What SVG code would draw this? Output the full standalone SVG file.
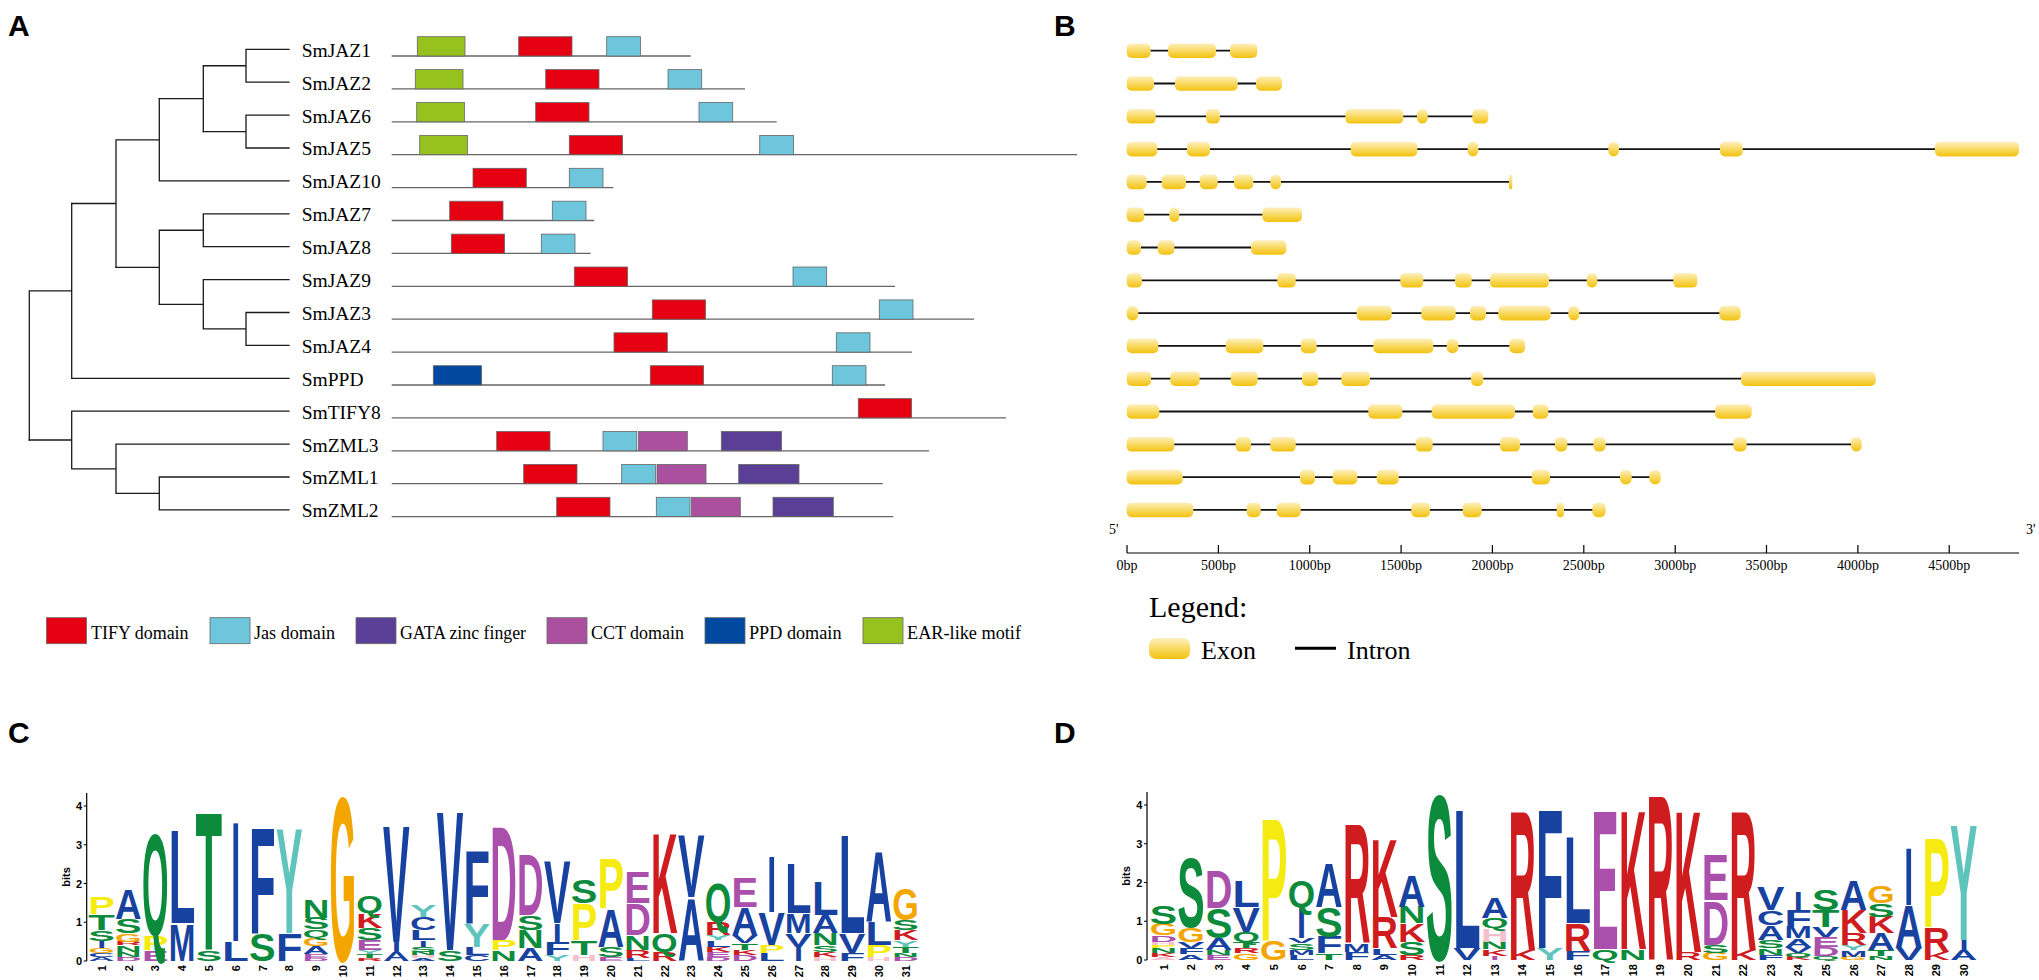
<svg xmlns="http://www.w3.org/2000/svg" width="2039" height="980" viewBox="0 0 2039 980">
<defs>
<linearGradient id="ex" x1="0" y1="0" x2="0" y2="1">
<stop offset="0" stop-color="#fdf0c0"/><stop offset="0.45" stop-color="#f9dc6a"/><stop offset="1" stop-color="#f2c10f"/>
</linearGradient>
<style>
.pl{font-family:"Liberation Sans",Arial,sans-serif;font-weight:bold;font-size:30px;fill:#000}
.sr{font-family:"Liberation Serif","Times New Roman",serif;fill:#000}
.tr{fill:none;stroke:#1a1a1a;stroke-width:1.3;stroke-linecap:square}
.pr{stroke:#666;stroke-width:1.3}
.dm{stroke:#666;stroke-width:0.8}
.ear{fill:#97c11f}.tify{fill:#e50012}.jas{fill:#6dc6dc}.ppd{fill:#0048a0}.cct{fill:#ab4f9f}.gata{fill:#5b3e96}
.exon{fill:url(#ex)}
.intr{stroke:#111;stroke-width:1.8}
.ax{stroke:#000;stroke-width:1.2;fill:none}
.lg{font-family:"Liberation Sans",Arial,sans-serif;font-weight:bold}
.cb{fill:#1742a0}.cg{fill:#0d8b3c}.cm{fill:#ab4fad}.cr{fill:#cf1d1f}.ch{fill:#f5c0cb}.co{fill:#f3a600}.cy{fill:#f6eb10}.ct{fill:#5fc4bb}
.num{font-family:"Liberation Sans",Arial,sans-serif;font-weight:bold;font-size:11px;fill:#000}
</style>
</defs>
<rect width="2039" height="980" fill="#fff"/>

<!-- panel labels -->
<text class="pl" x="8" y="36">A</text>
<text class="pl" x="1054" y="36">B</text>
<text class="pl" x="8" y="743">C</text>
<text class="pl" x="1054" y="743">D</text>

<!-- Tree -->
<g id="tree" class="tr">
<path d="M29.3,290.9V440 M29.3,290.9H71.7 M71.7,203.5V378.3 M71.7,378.3H289"/>
<path d="M71.7,203.5H116 M116,139.8V267.3 M116,139.8H159.3 M159.3,98.65V180.9 M159.3,180.9H289"/>
<path d="M159.3,98.65H203.3 M203.3,65.75V131.55 M203.3,65.75H246 M246,49.3V82.2 M246,49.3H289 M246,82.2H289"/>
<path d="M203.3,131.55H246 M246,115.1V148 M246,115.1H289 M246,148H289"/>
<path d="M116,267.3H159.3 M159.3,230.25V304.3 M159.3,230.25H203.3 M203.3,213.8V246.7 M203.3,213.8H289 M203.3,246.7H289"/>
<path d="M159.3,304.3H203.3 M203.3,279.6V328.95 M203.3,279.6H289 M203.3,328.95H246 M246,312.5V345.4 M246,312.5H289 M246,345.4H289"/>
<path d="M29.3,440H71.7 M71.7,411.2V468.8 M71.7,411.2H289 M71.7,468.8H116 M116,444.1V493.45 M116,444.1H289 M116,493.45H159.3 M159.3,477V509.9 M159.3,477H289 M159.3,509.9H289"/>
</g>

<!-- Gene labels -->
<g id="labels" class="sr" font-size="19.5">
<text x="301.7" y="56.7">SmJAZ1</text>
<text x="301.7" y="89.6">SmJAZ2</text>
<text x="301.7" y="122.5">SmJAZ6</text>
<text x="301.7" y="155.4">SmJAZ5</text>
<text x="301.7" y="188.3">SmJAZ10</text>
<text x="301.7" y="221.2">SmJAZ7</text>
<text x="301.7" y="254.1">SmJAZ8</text>
<text x="301.7" y="287">SmJAZ9</text>
<text x="301.7" y="319.9">SmJAZ3</text>
<text x="301.7" y="352.8">SmJAZ4</text>
<text x="301.7" y="385.7">SmPPD</text>
<text x="301.7" y="418.6">SmTIFY8</text>
<text x="301.7" y="451.5">SmZML3</text>
<text x="301.7" y="484.4">SmZML1</text>
<text x="301.7" y="517.3">SmZML2</text>
</g>

<!-- Protein domains -->
<g id="proteins">
<g id="p-JAZ1"><line class="pr" x1="391.7" y1="56" x2="690.7" y2="56" stroke="#222"/>
<rect class="ear dm" x="417.3" y="36.7" width="47.7" height="19.3"/><rect class="tify dm" x="518.7" y="36.7" width="53.3" height="19.3"/><rect class="jas dm" x="606.7" y="36.7" width="33.7" height="19.3"/></g>
<g id="p-JAZ2"><line class="pr" x1="391.7" y1="88.9" x2="745" y2="88.9"/>
<rect class="ear dm" x="415.3" y="69.6" width="47.7" height="19.3"/><rect class="tify dm" x="545.7" y="69.6" width="53.3" height="19.3"/><rect class="jas dm" x="668" y="69.6" width="33.7" height="19.3"/></g>
<g id="p-JAZ6"><line class="pr" x1="391.7" y1="121.8" x2="776.7" y2="121.8" stroke="#222"/>
<rect class="ear dm" x="416.7" y="102.5" width="47.7" height="19.3"/><rect class="tify dm" x="535.7" y="102.5" width="53.3" height="19.3"/><rect class="jas dm" x="699" y="102.5" width="33.7" height="19.3"/></g>
<g id="p-JAZ5"><line class="pr" x1="391.7" y1="154.7" x2="1077" y2="154.7"/>
<rect class="ear dm" x="419.7" y="135.4" width="47.7" height="19.3"/><rect class="tify dm" x="569.3" y="135.4" width="53.3" height="19.3"/><rect class="jas dm" x="759.7" y="135.4" width="33.7" height="19.3"/></g>
<g id="p-JAZ10"><line class="pr" x1="391.7" y1="187.6" x2="613.3" y2="187.6"/>
<rect class="tify dm" x="473" y="168.3" width="53.3" height="19.3"/><rect class="jas dm" x="569.3" y="168.3" width="33.7" height="19.3"/></g>
<g id="p-JAZ7"><line class="pr" x1="391.7" y1="220.5" x2="594.3" y2="220.5"/>
<rect class="tify dm" x="449.7" y="201.2" width="53.3" height="19.3"/><rect class="jas dm" x="552.3" y="201.2" width="33.7" height="19.3"/></g>
<g id="p-JAZ8"><line class="pr" x1="391.7" y1="253.4" x2="590.7" y2="253.4" stroke="#222"/>
<rect class="tify dm" x="451.3" y="234.1" width="53.3" height="19.3"/><rect class="jas dm" x="541.3" y="234.1" width="33.7" height="19.3"/></g>
<g id="p-JAZ9"><line class="pr" x1="391.7" y1="286.3" x2="895" y2="286.3"/>
<rect class="tify dm" x="574.3" y="267" width="53.3" height="19.3"/><rect class="jas dm" x="793" y="267" width="33.7" height="19.3"/></g>
<g id="p-JAZ3"><line class="pr" x1="391.7" y1="319.2" x2="974" y2="319.2"/>
<rect class="tify dm" x="652.3" y="299.9" width="53.3" height="19.3"/><rect class="jas dm" x="879.3" y="299.9" width="33.7" height="19.3"/></g>
<g id="p-JAZ4"><line class="pr" x1="391.7" y1="352.1" x2="912" y2="352.1"/>
<rect class="tify dm" x="614" y="332.8" width="53.3" height="19.3"/><rect class="jas dm" x="836.3" y="332.8" width="33.7" height="19.3"/></g>
<g id="p-PPD"><line class="pr" x1="391.7" y1="385" x2="885" y2="385"/>
<rect class="ppd dm" x="433.3" y="365.7" width="48.3" height="19.3"/><rect class="tify dm" x="650.3" y="365.7" width="53.3" height="19.3"/><rect class="jas dm" x="832.3" y="365.7" width="33.7" height="19.3"/></g>
<g id="p-TIFY8"><line class="pr" x1="391.7" y1="417.9" x2="1006" y2="417.9" stroke="#222"/>
<rect class="tify dm" x="858.3" y="398.6" width="53.3" height="19.3"/></g>
<g id="p-ZML3"><line class="pr" x1="391.7" y1="450.8" x2="929" y2="450.8"/>
<rect class="tify dm" x="496.7" y="431.5" width="53.3" height="19.3"/><rect class="jas dm" x="603" y="431.5" width="33.7" height="19.3"/><rect class="cct dm" x="638.3" y="431.5" width="49" height="19.3"/><rect class="gata dm" x="721.3" y="431.5" width="60.3" height="19.3"/></g>
<g id="p-ZML1"><line class="pr" x1="391.7" y1="483.7" x2="882.7" y2="483.7"/>
<rect class="tify dm" x="523.7" y="464.4" width="53.3" height="19.3"/><rect class="jas dm" x="621.7" y="464.4" width="33.7" height="19.3"/><rect class="cct dm" x="657" y="464.4" width="49" height="19.3"/><rect class="gata dm" x="738.7" y="464.4" width="60.3" height="19.3"/></g>
<g id="p-ZML2"><line class="pr" x1="391.7" y1="516.6" x2="893.3" y2="516.6"/>
<rect class="tify dm" x="556.7" y="497.3" width="53.3" height="19.3"/><rect class="jas dm" x="656.3" y="497.3" width="33.7" height="19.3"/><rect class="cct dm" x="691.3" y="497.3" width="49" height="19.3"/><rect class="gata dm" x="773" y="497.3" width="60.3" height="19.3"/></g>
</g>

<!-- Domain legend -->
<g id="domain-legend" class="sr" font-size="19.5">
<rect class="tify dm" x="46.5" y="617.7" width="40" height="26"/><text x="91" y="638.5" textLength="97.6" lengthAdjust="spacingAndGlyphs">TIFY domain</text>
<rect class="jas dm" x="210" y="617.7" width="40" height="26"/><text x="254" y="638.5" textLength="81" lengthAdjust="spacingAndGlyphs">Jas domain</text>
<rect class="gata dm" x="356" y="617.7" width="40" height="26"/><text x="400" y="638.5" textLength="126" lengthAdjust="spacingAndGlyphs">GATA zinc finger</text>
<rect class="cct dm" x="547" y="617.7" width="40" height="26"/><text x="591" y="638.5" textLength="93" lengthAdjust="spacingAndGlyphs">CCT domain</text>
<rect class="ppd dm" x="705" y="617.7" width="40" height="26"/><text x="749" y="638.5" textLength="92.5" lengthAdjust="spacingAndGlyphs">PPD domain</text>
<rect class="ear dm" x="863" y="617.7" width="40" height="26"/><text x="907" y="638.5" textLength="114" lengthAdjust="spacingAndGlyphs">EAR-like motif</text>
</g>

<!-- Gene structures -->
<g id="genes">
<g id="g-JAZ1"><line class="intr" x1="1128" y1="50.7" x2="1256" y2="50.7"/>
<rect class="exon" x="1126.7" y="43.4" width="24" height="14.6" rx="5"/><rect class="exon" x="1168" y="43.4" width="48" height="14.6" rx="5"/><rect class="exon" x="1230" y="43.4" width="27.3" height="14.6" rx="5"/></g>
<g id="g-JAZ2"><line class="intr" x1="1128" y1="83.5" x2="1281" y2="83.5"/>
<rect class="exon" x="1126.7" y="76.2" width="27.3" height="14.6" rx="5"/><rect class="exon" x="1175" y="76.2" width="62.7" height="14.6" rx="5"/><rect class="exon" x="1256" y="76.2" width="26" height="14.6" rx="5"/></g>
<g id="g-JAZ6"><line class="intr" x1="1128" y1="116.3" x2="1487" y2="116.3"/>
<rect class="exon" x="1126.7" y="109" width="29" height="14.6" rx="5"/><rect class="exon" x="1206" y="109" width="14" height="14.6" rx="5"/><rect class="exon" x="1345.3" y="109" width="58" height="14.6" rx="5"/><rect class="exon" x="1417" y="109" width="10.7" height="14.6" rx="5.3"/><rect class="exon" x="1472.3" y="109" width="16" height="14.6" rx="5"/></g>
<g id="g-JAZ5"><line class="intr" x1="1128" y1="149.1" x2="2018" y2="149.1"/>
<rect class="exon" x="1126.7" y="141.8" width="30.6" height="14.6" rx="5"/><rect class="exon" x="1187" y="141.8" width="23" height="14.6" rx="5"/><rect class="exon" x="1350.7" y="141.8" width="66.6" height="14.6" rx="5"/><rect class="exon" x="1467.7" y="141.8" width="10.6" height="14.6" rx="5.3"/><rect class="exon" x="1608.3" y="141.8" width="10.7" height="14.6" rx="5.3"/><rect class="exon" x="1720" y="141.8" width="22.7" height="14.6" rx="5"/><rect class="exon" x="1935" y="141.8" width="84" height="14.6" rx="5"/></g>
<g id="g-JAZ10"><line class="intr" x1="1128" y1="181.9" x2="1511" y2="181.9"/>
<rect class="exon" x="1126.7" y="174.6" width="20" height="14.6" rx="5"/><rect class="exon" x="1161.7" y="174.6" width="24.3" height="14.6" rx="5"/><rect class="exon" x="1199.7" y="174.6" width="18" height="14.6" rx="5"/><rect class="exon" x="1234" y="174.6" width="19.3" height="14.6" rx="5"/><rect class="exon" x="1270.3" y="174.6" width="10.7" height="14.6" rx="5.3"/><rect class="exon" x="1509" y="174.6" width="3.3" height="14.6" rx="1.6"/></g>
<g id="g-JAZ7"><line class="intr" x1="1128" y1="214.7" x2="1300" y2="214.7"/>
<rect class="exon" x="1126.7" y="207.4" width="17.6" height="14.6" rx="5"/><rect class="exon" x="1169.3" y="207.4" width="10" height="14.6" rx="5"/><rect class="exon" x="1262.3" y="207.4" width="39.7" height="14.6" rx="5"/></g>
<g id="g-JAZ8"><line class="intr" x1="1128" y1="247.5" x2="1285" y2="247.5"/>
<rect class="exon" x="1126.7" y="240.2" width="14.3" height="14.6" rx="5"/><rect class="exon" x="1157.7" y="240.2" width="16.6" height="14.6" rx="5"/><rect class="exon" x="1251" y="240.2" width="35.3" height="14.6" rx="5"/></g>
<g id="g-JAZ9"><line class="intr" x1="1128" y1="280.3" x2="1696" y2="280.3"/>
<rect class="exon" x="1126.7" y="273" width="15.3" height="14.6" rx="5"/><rect class="exon" x="1277.3" y="273" width="18.4" height="14.6" rx="5"/><rect class="exon" x="1400.3" y="273" width="23" height="14.6" rx="5"/><rect class="exon" x="1455" y="273" width="16.7" height="14.6" rx="5"/><rect class="exon" x="1490" y="273" width="59" height="14.6" rx="5"/><rect class="exon" x="1586.7" y="273" width="10.6" height="14.6" rx="5.3"/><rect class="exon" x="1673.3" y="273" width="24" height="14.6" rx="5"/></g>
<g id="g-JAZ3"><line class="intr" x1="1128" y1="313.1" x2="1740" y2="313.1"/>
<rect class="exon" x="1126.7" y="305.8" width="11.6" height="14.6" rx="5.8"/><rect class="exon" x="1356.7" y="305.8" width="35" height="14.6" rx="5"/><rect class="exon" x="1421.3" y="305.8" width="34.4" height="14.6" rx="5"/><rect class="exon" x="1470" y="305.8" width="16" height="14.6" rx="5"/><rect class="exon" x="1498.3" y="305.8" width="52.4" height="14.6" rx="5"/><rect class="exon" x="1568.3" y="305.8" width="11" height="14.6" rx="5.5"/><rect class="exon" x="1719.3" y="305.8" width="21.4" height="14.6" rx="5"/></g>
<g id="g-JAZ4"><line class="intr" x1="1128" y1="345.9" x2="1524" y2="345.9"/>
<rect class="exon" x="1126.7" y="338.6" width="31.6" height="14.6" rx="5"/><rect class="exon" x="1225.7" y="338.6" width="37.6" height="14.6" rx="5"/><rect class="exon" x="1300.7" y="338.6" width="16" height="14.6" rx="5"/><rect class="exon" x="1373.3" y="338.6" width="60" height="14.6" rx="5"/><rect class="exon" x="1446.7" y="338.6" width="11.6" height="14.6" rx="5.8"/><rect class="exon" x="1509.3" y="338.6" width="15.7" height="14.6" rx="5"/></g>
<g id="g-PPD"><line class="intr" x1="1128" y1="378.7" x2="1875" y2="378.7"/>
<rect class="exon" x="1126.7" y="371.4" width="24.3" height="14.6" rx="5"/><rect class="exon" x="1170.3" y="371.4" width="29.4" height="14.6" rx="5"/><rect class="exon" x="1230.7" y="371.4" width="27" height="14.6" rx="5"/><rect class="exon" x="1302" y="371.4" width="16.3" height="14.6" rx="5"/><rect class="exon" x="1341.3" y="371.4" width="28.7" height="14.6" rx="5"/><rect class="exon" x="1471" y="371.4" width="12.3" height="14.6" rx="5.5"/><rect class="exon" x="1741" y="371.4" width="134.7" height="14.6" rx="5"/></g>
<g id="g-TIFY8"><line class="intr" x1="1128" y1="411.5" x2="1750" y2="411.5"/>
<rect class="exon" x="1126.7" y="404.2" width="32.6" height="14.6" rx="5"/><rect class="exon" x="1368.3" y="404.2" width="34" height="14.6" rx="5"/><rect class="exon" x="1431.7" y="404.2" width="83.3" height="14.6" rx="5"/><rect class="exon" x="1532.7" y="404.2" width="15.6" height="14.6" rx="5"/><rect class="exon" x="1715" y="404.2" width="36.7" height="14.6" rx="5"/></g>
<g id="g-ZML3"><line class="intr" x1="1128" y1="444.3" x2="1860" y2="444.3"/>
<rect class="exon" x="1126.7" y="437" width="47.6" height="14.6" rx="5"/><rect class="exon" x="1235.7" y="437" width="15.3" height="14.6" rx="5"/><rect class="exon" x="1270.3" y="437" width="25.4" height="14.6" rx="5"/><rect class="exon" x="1415.7" y="437" width="17" height="14.6" rx="5"/><rect class="exon" x="1500" y="437" width="20" height="14.6" rx="5"/><rect class="exon" x="1555" y="437" width="12.3" height="14.6" rx="5.5"/><rect class="exon" x="1593.3" y="437" width="12.4" height="14.6" rx="5.5"/><rect class="exon" x="1733.3" y="437" width="13.4" height="14.6" rx="5.5"/><rect class="exon" x="1851" y="437" width="10.7" height="14.6" rx="5.3"/></g>
<g id="g-ZML1"><line class="intr" x1="1128" y1="477.1" x2="1660" y2="477.1"/>
<rect class="exon" x="1126.7" y="469.8" width="56" height="14.6" rx="5"/><rect class="exon" x="1300" y="469.8" width="15" height="14.6" rx="5"/><rect class="exon" x="1332.7" y="469.8" width="24.6" height="14.6" rx="5"/><rect class="exon" x="1376.7" y="469.8" width="22" height="14.6" rx="5"/><rect class="exon" x="1531.7" y="469.8" width="18.3" height="14.6" rx="5"/><rect class="exon" x="1620" y="469.8" width="11.7" height="14.6" rx="5.5"/><rect class="exon" x="1649.3" y="469.8" width="11.4" height="14.6" rx="5.5"/></g>
<g id="g-ZML2"><line class="intr" x1="1128" y1="509.9" x2="1605" y2="509.9"/>
<rect class="exon" x="1126.7" y="502.6" width="66.6" height="14.6" rx="5"/><rect class="exon" x="1246.7" y="502.6" width="14" height="14.6" rx="5"/><rect class="exon" x="1276.7" y="502.6" width="24" height="14.6" rx="5"/><rect class="exon" x="1411.3" y="502.6" width="18.7" height="14.6" rx="5"/><rect class="exon" x="1462.7" y="502.6" width="19" height="14.6" rx="5"/><rect class="exon" x="1556.7" y="502.6" width="7.3" height="14.6" rx="3.6"/><rect class="exon" x="1592.3" y="502.6" width="13.4" height="14.6" rx="5.5"/></g>
</g>

<!-- bp axis -->
<g id="bp-axis">
<path class="ax" d="M1127,553H2019 M1127,545V553 M1218.4,545V553 M1309.7,545V553 M1401.1,545V553 M1492.4,545V553 M1583.8,545V553 M1675.2,545V553 M1766.5,545V553 M1857.9,545V553 M1949.2,545V553"/>
<g class="sr" font-size="14" text-anchor="middle">
<text x="1127" y="570">0bp</text><text x="1218.4" y="570">500bp</text><text x="1309.7" y="570">1000bp</text><text x="1401.1" y="570">1500bp</text><text x="1492.4" y="570">2000bp</text><text x="1583.8" y="570">2500bp</text><text x="1675.2" y="570">3000bp</text><text x="1766.5" y="570">3500bp</text><text x="1857.9" y="570">4000bp</text><text x="1949.2" y="570">4500bp</text>
</g>
<text class="sr" font-size="14" x="1109" y="534">5'</text>
<text class="sr" font-size="14" x="2026" y="534">3'</text>
</g>

<!-- B legend -->
<g id="gene-legend" class="sr">
<text x="1149" y="616.7" font-size="30">Legend:</text>
<rect class="exon" x="1149" y="638" width="41" height="21" rx="7"/>
<text x="1201" y="659" font-size="26">Exon</text>
<line x1="1295" y1="648.3" x2="1336" y2="648.3" stroke="#000" stroke-width="3"/>
<text x="1347" y="659" font-size="26">Intron</text>
</g>

<!-- Logo C -->
<g id="logoC">
<path class="ax" d="M86.7,793V961 M83.7,961H86.7 M83.7,922.25H86.7 M83.7,883.5H86.7 M83.7,844.75H86.7 M83.7,806H86.7"/>
<g class="num" text-anchor="end"><text x="82" y="965">0</text><text x="82" y="926.2">1</text><text x="82" y="887.5">2</text><text x="82" y="848.7">3</text><text x="82" y="810">4</text></g>
<text class="num" transform="translate(70,877) rotate(-90)" text-anchor="middle">bits</text>
<g class="lg">
<text class="cb" x="88.3" y="961" font-size="6" textLength="26.6" lengthAdjust="spacingAndGlyphs">A</text>
<text class="cb" x="88.3" y="956.7" font-size="5.6" textLength="26.6" lengthAdjust="spacingAndGlyphs">C</text>
<text class="co" x="88.3" y="952.7" font-size="6.6" textLength="26.6" lengthAdjust="spacingAndGlyphs">G</text>
<text class="cb" x="97.2" y="948" font-size="10.2" textLength="9" lengthAdjust="spacingAndGlyphs">I</text>
<text class="cg" x="88.3" y="940.7" font-size="14.9" textLength="26.6" lengthAdjust="spacingAndGlyphs">S</text>
<text class="cg" x="88.3" y="930" font-size="22.4" textLength="26.6" lengthAdjust="spacingAndGlyphs">T</text>
<text class="cy" x="88.3" y="914" font-size="23.3" textLength="26.6" lengthAdjust="spacingAndGlyphs">P</text>

<text class="cm" x="115.1" y="961" font-size="6" textLength="26.6" lengthAdjust="spacingAndGlyphs">D</text>
<text class="cg" x="115.1" y="956.7" font-size="7" textLength="26.6" lengthAdjust="spacingAndGlyphs">N</text>
<text class="cg" x="115.1" y="951.7" font-size="8.8" textLength="26.6" lengthAdjust="spacingAndGlyphs">N</text>
<text class="cr" x="115.1" y="945.4" font-size="5.2" textLength="26.6" lengthAdjust="spacingAndGlyphs">R</text>
<text class="co" x="115.1" y="941.7" font-size="11.6" textLength="26.6" lengthAdjust="spacingAndGlyphs">G</text>
<text class="cg" x="115.1" y="933.4" font-size="19.6" textLength="26.6" lengthAdjust="spacingAndGlyphs">S</text>
<text class="cb" x="115.1" y="919.4" font-size="43.3" textLength="26.6" lengthAdjust="spacingAndGlyphs">A</text>

<text class="cm" x="141.9" y="961" font-size="15.4" textLength="26.6" lengthAdjust="spacingAndGlyphs">E</text>
<text class="cy" x="141.9" y="950" font-size="21" textLength="26.6" lengthAdjust="spacingAndGlyphs">P</text>
<text class="cg" x="141.9" y="935" font-size="143.9" textLength="26.6" lengthAdjust="spacingAndGlyphs">Q</text>

<text class="cb" x="168.7" y="961" font-size="52.7" textLength="26.6" lengthAdjust="spacingAndGlyphs">M</text>
<text class="cb" x="168.7" y="923.3" font-size="133.7" textLength="26.6" lengthAdjust="spacingAndGlyphs">L</text>

<text class="cg" x="195.5" y="961" font-size="15.4" textLength="26.6" lengthAdjust="spacingAndGlyphs">S</text>
<text class="cg" x="195.5" y="950" font-size="196.6" textLength="26.6" lengthAdjust="spacingAndGlyphs">T</text>

<text class="cb" x="222.3" y="961" font-size="27.9" textLength="26.6" lengthAdjust="spacingAndGlyphs">L</text>
<text class="cb" x="231.2" y="941" font-size="171.4" textLength="9" lengthAdjust="spacingAndGlyphs">I</text>

<text class="cg" x="249.1" y="961" font-size="38.7" textLength="26.6" lengthAdjust="spacingAndGlyphs">S</text>
<text class="cb" x="249.1" y="933.3" font-size="152.7" textLength="26.6" lengthAdjust="spacingAndGlyphs">F</text>

<text class="cb" x="275.9" y="961" font-size="38.7" textLength="26.6" lengthAdjust="spacingAndGlyphs">F</text>
<text class="ct" x="275.9" y="933.3" font-size="150.5" textLength="26.6" lengthAdjust="spacingAndGlyphs">Y</text>

<text class="cm" x="302.7" y="961" font-size="4.2" textLength="26.6" lengthAdjust="spacingAndGlyphs">D</text>
<text class="cm" x="302.7" y="958" font-size="5.6" textLength="26.6" lengthAdjust="spacingAndGlyphs">E</text>
<text class="cb" x="302.7" y="954" font-size="11.2" textLength="26.6" lengthAdjust="spacingAndGlyphs">A</text>
<text class="co" x="302.7" y="946" font-size="11.6" textLength="26.6" lengthAdjust="spacingAndGlyphs">G</text>
<text class="cg" x="302.7" y="937.7" font-size="11.6" textLength="26.6" lengthAdjust="spacingAndGlyphs">Q</text>
<text class="cg" x="302.7" y="929.4" font-size="16.3" textLength="26.6" lengthAdjust="spacingAndGlyphs">S</text>
<text class="cg" x="302.7" y="917.7" font-size="25.6" textLength="26.6" lengthAdjust="spacingAndGlyphs">N</text>

<text class="co" x="329.5" y="961" font-size="234.3" textLength="26.6" lengthAdjust="spacingAndGlyphs">G</text>

<text class="cr" x="356.3" y="961" font-size="3.8" textLength="26.6" lengthAdjust="spacingAndGlyphs">R</text>
<text class="cg" x="356.3" y="958.3" font-size="5.6" textLength="26.6" lengthAdjust="spacingAndGlyphs">T</text>
<text class="ct" x="356.3" y="954.3" font-size="6" textLength="26.6" lengthAdjust="spacingAndGlyphs">Y</text>
<text class="cm" x="356.3" y="950" font-size="14" textLength="26.6" lengthAdjust="spacingAndGlyphs">E</text>
<text class="cg" x="356.3" y="940" font-size="16.3" textLength="26.6" lengthAdjust="spacingAndGlyphs">S</text>
<text class="cr" x="356.3" y="928.3" font-size="21" textLength="26.6" lengthAdjust="spacingAndGlyphs">K</text>
<text class="cg" x="356.3" y="913.3" font-size="23.3" textLength="26.6" lengthAdjust="spacingAndGlyphs">Q</text>

<text class="cb" x="383.1" y="961" font-size="13" textLength="26.6" lengthAdjust="spacingAndGlyphs">A</text>
<text class="cb" x="392" y="951.7" font-size="14" textLength="9" lengthAdjust="spacingAndGlyphs">I</text>
<text class="cb" x="383.1" y="941.7" font-size="166.2" textLength="26.6" lengthAdjust="spacingAndGlyphs">V</text>

<text class="cb" x="409.9" y="961" font-size="3.8" textLength="26.6" lengthAdjust="spacingAndGlyphs">A</text>
<text class="ch" x="409.9" y="958.3" font-size="4.2" textLength="26.6" lengthAdjust="spacingAndGlyphs">H</text>
<text class="cg" x="409.9" y="955.3" font-size="4.6" textLength="26.6" lengthAdjust="spacingAndGlyphs">N</text>
<text class="cg" x="409.9" y="952" font-size="7" textLength="26.6" lengthAdjust="spacingAndGlyphs">S</text>
<text class="cb" x="418.8" y="947" font-size="9.4" textLength="9" lengthAdjust="spacingAndGlyphs">I</text>
<text class="cb" x="409.9" y="940.3" font-size="14" textLength="26.6" lengthAdjust="spacingAndGlyphs">L</text>
<text class="cb" x="409.9" y="930.3" font-size="18.6" textLength="26.6" lengthAdjust="spacingAndGlyphs">C</text>
<text class="ct" x="409.9" y="917" font-size="16.3" textLength="26.6" lengthAdjust="spacingAndGlyphs">Y</text>

<text class="cg" x="436.7" y="961" font-size="15.4" textLength="26.6" lengthAdjust="spacingAndGlyphs">S</text>
<text class="cb" x="436.7" y="950" font-size="198" textLength="26.6" lengthAdjust="spacingAndGlyphs">V</text>

<text class="cb" x="463.5" y="961" font-size="8.4" textLength="26.6" lengthAdjust="spacingAndGlyphs">C</text>
<text class="cb" x="463.5" y="955" font-size="11.6" textLength="26.6" lengthAdjust="spacingAndGlyphs">L</text>
<text class="ct" x="463.5" y="946.7" font-size="32.6" textLength="26.6" lengthAdjust="spacingAndGlyphs">Y</text>
<text class="cb" x="463.5" y="923.4" font-size="103.4" textLength="26.6" lengthAdjust="spacingAndGlyphs">F</text>

<text class="cg" x="490.3" y="961" font-size="15.4" textLength="26.6" lengthAdjust="spacingAndGlyphs">N</text>
<text class="cy" x="490.3" y="950" font-size="14" textLength="26.6" lengthAdjust="spacingAndGlyphs">P</text>
<text class="cm" x="490.3" y="940" font-size="163" textLength="26.6" lengthAdjust="spacingAndGlyphs">D</text>

<text class="cb" x="517.1" y="961" font-size="17.7" textLength="26.6" lengthAdjust="spacingAndGlyphs">A</text>
<text class="cg" x="517.1" y="948.3" font-size="25.6" textLength="26.6" lengthAdjust="spacingAndGlyphs">N</text>
<text class="cg" x="517.1" y="930" font-size="21" textLength="26.6" lengthAdjust="spacingAndGlyphs">S</text>
<text class="cm" x="517.1" y="915" font-size="87" textLength="26.6" lengthAdjust="spacingAndGlyphs">D</text>

<text class="ct" x="543.9" y="961" font-size="8.4" textLength="26.6" lengthAdjust="spacingAndGlyphs">Y</text>
<text class="cb" x="543.9" y="955" font-size="18.6" textLength="26.6" lengthAdjust="spacingAndGlyphs">F</text>
<text class="cb" x="552.8" y="941.7" font-size="25.6" textLength="9" lengthAdjust="spacingAndGlyphs">I</text>
<text class="cb" x="543.9" y="923.4" font-size="89.4" textLength="26.6" lengthAdjust="spacingAndGlyphs">V</text>

<text class="ch" x="570.7" y="961" font-size="8.4" textLength="26.6" lengthAdjust="spacingAndGlyphs">H</text>
<text class="cg" x="570.7" y="955" font-size="21" textLength="26.6" lengthAdjust="spacingAndGlyphs">T</text>
<text class="cy" x="570.7" y="940" font-size="51.3" textLength="26.6" lengthAdjust="spacingAndGlyphs">P</text>
<text class="cg" x="570.7" y="903.3" font-size="32.6" textLength="26.6" lengthAdjust="spacingAndGlyphs">S</text>

<text class="cm" x="597.5" y="961" font-size="6" textLength="26.6" lengthAdjust="spacingAndGlyphs">E</text>
<text class="cg" x="597.5" y="956.7" font-size="14" textLength="26.6" lengthAdjust="spacingAndGlyphs">S</text>
<text class="cb" x="597.5" y="946.7" font-size="53.5" textLength="26.6" lengthAdjust="spacingAndGlyphs">A</text>
<text class="cy" x="597.5" y="908.4" font-size="69.9" textLength="26.6" lengthAdjust="spacingAndGlyphs">P</text>

<text class="cb" x="624.3" y="961" font-size="3.8" textLength="26.6" lengthAdjust="spacingAndGlyphs">L</text>
<text class="cr" x="624.3" y="958.3" font-size="11.6" textLength="26.6" lengthAdjust="spacingAndGlyphs">R</text>
<text class="cg" x="624.3" y="950" font-size="21" textLength="26.6" lengthAdjust="spacingAndGlyphs">N</text>
<text class="cm" x="624.3" y="935" font-size="44.3" textLength="26.6" lengthAdjust="spacingAndGlyphs">D</text>
<text class="cm" x="624.3" y="903.3" font-size="44.3" textLength="26.6" lengthAdjust="spacingAndGlyphs">E</text>

<text class="cr" x="651.1" y="961" font-size="13" textLength="26.6" lengthAdjust="spacingAndGlyphs">R</text>
<text class="cg" x="651.1" y="951.7" font-size="25.6" textLength="26.6" lengthAdjust="spacingAndGlyphs">Q</text>
<text class="cr" x="651.1" y="933.4" font-size="143.5" textLength="26.6" lengthAdjust="spacingAndGlyphs">K</text>

<text class="cb" x="677.9" y="961" font-size="89.8" textLength="26.6" lengthAdjust="spacingAndGlyphs">A</text>
<text class="cb" x="677.9" y="896.7" font-size="89.4" textLength="26.6" lengthAdjust="spacingAndGlyphs">V</text>

<text class="cm" x="704.7" y="961" font-size="6" textLength="26.6" lengthAdjust="spacingAndGlyphs">D</text>
<text class="cm" x="704.7" y="956.7" font-size="7" textLength="26.6" lengthAdjust="spacingAndGlyphs">E</text>
<text class="cr" x="704.7" y="951.7" font-size="7" textLength="26.6" lengthAdjust="spacingAndGlyphs">K</text>
<text class="cb" x="704.7" y="946.7" font-size="9.4" textLength="26.6" lengthAdjust="spacingAndGlyphs">L</text>
<text class="ct" x="704.7" y="940" font-size="7" textLength="26.6" lengthAdjust="spacingAndGlyphs">Y</text>
<text class="cr" x="704.7" y="935" font-size="18.6" textLength="26.6" lengthAdjust="spacingAndGlyphs">R</text>
<text class="cg" x="704.7" y="921.7" font-size="55.9" textLength="26.6" lengthAdjust="spacingAndGlyphs">Q</text>

<text class="cm" x="731.5" y="961" font-size="8.4" textLength="26.6" lengthAdjust="spacingAndGlyphs">D</text>
<text class="cr" x="731.5" y="955" font-size="7" textLength="26.6" lengthAdjust="spacingAndGlyphs">K</text>
<text class="cg" x="731.5" y="950" font-size="9.4" textLength="26.6" lengthAdjust="spacingAndGlyphs">T</text>
<text class="cb" x="731.5" y="943.3" font-size="11.6" textLength="26.6" lengthAdjust="spacingAndGlyphs">V</text>
<text class="cb" x="731.5" y="935" font-size="39.5" textLength="26.6" lengthAdjust="spacingAndGlyphs">A</text>
<text class="cm" x="731.5" y="906.7" font-size="41.9" textLength="26.6" lengthAdjust="spacingAndGlyphs">E</text>

<text class="cb" x="758.3" y="961" font-size="10.8" textLength="26.6" lengthAdjust="spacingAndGlyphs">L</text>
<text class="cy" x="758.3" y="953.3" font-size="11.6" textLength="26.6" lengthAdjust="spacingAndGlyphs">P</text>
<text class="cb" x="758.3" y="945" font-size="46.5" textLength="26.6" lengthAdjust="spacingAndGlyphs">V</text>
<text class="cb" x="767.2" y="911.7" font-size="79.2" textLength="9" lengthAdjust="spacingAndGlyphs">I</text>

<text class="cb" x="794" y="961" font-size="20" textLength="9" lengthAdjust="spacingAndGlyphs">I</text>
<text class="cb" x="785.1" y="946.7" font-size="18.6" textLength="26.6" lengthAdjust="spacingAndGlyphs">V</text>
<text class="cb" x="785.1" y="933.4" font-size="27.9" textLength="26.6" lengthAdjust="spacingAndGlyphs">M</text>
<text class="cb" x="785.1" y="913.4" font-size="69.9" textLength="26.6" lengthAdjust="spacingAndGlyphs">L</text>

<text class="ch" x="811.9" y="961" font-size="6" textLength="26.6" lengthAdjust="spacingAndGlyphs">H</text>
<text class="cr" x="811.9" y="956.7" font-size="7" textLength="26.6" lengthAdjust="spacingAndGlyphs">K</text>
<text class="cg" x="811.9" y="951.7" font-size="9.4" textLength="26.6" lengthAdjust="spacingAndGlyphs">S</text>
<text class="cg" x="811.9" y="945" font-size="16.3" textLength="26.6" lengthAdjust="spacingAndGlyphs">N</text>
<text class="cb" x="811.9" y="933.3" font-size="25.6" textLength="26.6" lengthAdjust="spacingAndGlyphs">A</text>
<text class="cb" x="811.9" y="915" font-size="48.9" textLength="26.6" lengthAdjust="spacingAndGlyphs">L</text>

<text class="cb" x="838.7" y="961" font-size="11.6" textLength="26.6" lengthAdjust="spacingAndGlyphs">F</text>
<text class="cb" x="838.7" y="952.7" font-size="27" textLength="26.6" lengthAdjust="spacingAndGlyphs">V</text>
<text class="cb" x="838.7" y="933.4" font-size="140.7" textLength="26.6" lengthAdjust="spacingAndGlyphs">L</text>

<text class="ch" x="865.5" y="961" font-size="6" textLength="26.6" lengthAdjust="spacingAndGlyphs">H</text>
<text class="cy" x="865.5" y="956.7" font-size="16.3" textLength="26.6" lengthAdjust="spacingAndGlyphs">P</text>
<text class="cb" x="865.5" y="945" font-size="32.6" textLength="26.6" lengthAdjust="spacingAndGlyphs">L</text>
<text class="cb" x="865.5" y="921.7" font-size="100.2" textLength="26.6" lengthAdjust="spacingAndGlyphs">A</text>

<text class="cm" x="892.3" y="961" font-size="6" textLength="26.6" lengthAdjust="spacingAndGlyphs">D</text>
<text class="cg" x="892.3" y="956.7" font-size="5.6" textLength="26.6" lengthAdjust="spacingAndGlyphs">N</text>
<text class="cg" x="892.3" y="952.7" font-size="8.4" textLength="26.6" lengthAdjust="spacingAndGlyphs">T</text>
<text class="ct" x="892.3" y="946.7" font-size="9.4" textLength="26.6" lengthAdjust="spacingAndGlyphs">Y</text>
<text class="cr" x="892.3" y="940" font-size="14" textLength="26.6" lengthAdjust="spacingAndGlyphs">K</text>
<text class="cg" x="892.3" y="930" font-size="14" textLength="26.6" lengthAdjust="spacingAndGlyphs">S</text>
<text class="co" x="892.3" y="920" font-size="44.3" textLength="26.6" lengthAdjust="spacingAndGlyphs">G</text>
</g>
<g class="num" text-anchor="end">
<text transform="translate(105.7,965) rotate(-90)">1</text><text transform="translate(132.5,965) rotate(-90)">2</text><text transform="translate(159.3,965) rotate(-90)">3</text><text transform="translate(186.1,965) rotate(-90)">4</text><text transform="translate(212.9,965) rotate(-90)">5</text><text transform="translate(239.7,965) rotate(-90)">6</text><text transform="translate(266.5,965) rotate(-90)">7</text><text transform="translate(293.3,965) rotate(-90)">8</text><text transform="translate(320.1,965) rotate(-90)">9</text><text transform="translate(346.9,965) rotate(-90)">10</text><text transform="translate(373.7,965) rotate(-90)">11</text><text transform="translate(400.5,965) rotate(-90)">12</text><text transform="translate(427.3,965) rotate(-90)">13</text><text transform="translate(454.1,965) rotate(-90)">14</text><text transform="translate(480.9,965) rotate(-90)">15</text><text transform="translate(507.7,965) rotate(-90)">16</text><text transform="translate(534.5,965) rotate(-90)">17</text><text transform="translate(561.3,965) rotate(-90)">18</text><text transform="translate(588.1,965) rotate(-90)">19</text><text transform="translate(614.9,965) rotate(-90)">20</text><text transform="translate(641.7,965) rotate(-90)">21</text><text transform="translate(668.5,965) rotate(-90)">22</text><text transform="translate(695.3,965) rotate(-90)">23</text><text transform="translate(722.1,965) rotate(-90)">24</text><text transform="translate(748.9,965) rotate(-90)">25</text><text transform="translate(775.7,965) rotate(-90)">26</text><text transform="translate(802.5,965) rotate(-90)">27</text><text transform="translate(829.3,965) rotate(-90)">28</text><text transform="translate(856.1,965) rotate(-90)">29</text><text transform="translate(882.9,965) rotate(-90)">30</text><text transform="translate(909.7,965) rotate(-90)">31</text>
</g>
</g>

<!-- Logo D -->
<g id="logoD">
<path class="ax" d="M1147,792V960 M1144,960H1147 M1144,921.25H1147 M1144,882.5H1147 M1144,843.75H1147 M1144,805H1147"/>
<g class="num" text-anchor="end"><text x="1142.3" y="964">0</text><text x="1142.3" y="925.2">1</text><text x="1142.3" y="886.5">2</text><text x="1142.3" y="847.7">3</text><text x="1142.3" y="809">4</text></g>
<text class="num" transform="translate(1130,876) rotate(-90)" text-anchor="middle">bits</text>
<g class="lg">
<text class="ch" x="1149.7" y="960" font-size="4.2" textLength="27.4" lengthAdjust="spacingAndGlyphs">A</text>
<text class="cr" x="1149.7" y="957" font-size="5.6" textLength="27.4" lengthAdjust="spacingAndGlyphs">K</text>
<text class="cg" x="1149.7" y="953" font-size="7" textLength="27.4" lengthAdjust="spacingAndGlyphs">N</text>
<text class="cy" x="1149.7" y="948" font-size="4.2" textLength="27.4" lengthAdjust="spacingAndGlyphs">P</text>
<text class="ch" x="1149.7" y="945" font-size="4.2" textLength="27.4" lengthAdjust="spacingAndGlyphs">H</text>
<text class="cm" x="1149.7" y="942" font-size="9.4" textLength="27.4" lengthAdjust="spacingAndGlyphs">D</text>
<text class="co" x="1149.7" y="935.3" font-size="16.3" textLength="27.4" lengthAdjust="spacingAndGlyphs">G</text>
<text class="cg" x="1149.7" y="923.6" font-size="25.1" textLength="27.4" lengthAdjust="spacingAndGlyphs">S</text>

<text class="cb" x="1177.3" y="960" font-size="8" textLength="27.4" lengthAdjust="spacingAndGlyphs">A</text>
<text class="cb" x="1177.3" y="954.3" font-size="8.4" textLength="27.4" lengthAdjust="spacingAndGlyphs">F</text>
<text class="cb" x="1177.3" y="948.3" font-size="9.4" textLength="27.4" lengthAdjust="spacingAndGlyphs">V</text>
<text class="co" x="1177.3" y="941.6" font-size="21" textLength="27.4" lengthAdjust="spacingAndGlyphs">G</text>
<text class="cg" x="1177.3" y="926.6" font-size="97.8" textLength="27.4" lengthAdjust="spacingAndGlyphs">S</text>

<text class="cm" x="1204.9" y="960" font-size="7" textLength="27.4" lengthAdjust="spacingAndGlyphs">E</text>
<text class="cg" x="1204.9" y="955" font-size="7" textLength="27.4" lengthAdjust="spacingAndGlyphs">N</text>
<text class="cb" x="1204.9" y="950" font-size="16.3" textLength="27.4" lengthAdjust="spacingAndGlyphs">A</text>
<text class="cg" x="1204.9" y="938.3" font-size="41.9" textLength="27.4" lengthAdjust="spacingAndGlyphs">S</text>
<text class="cm" x="1204.9" y="908.3" font-size="53.5" textLength="27.4" lengthAdjust="spacingAndGlyphs">D</text>

<text class="co" x="1232.5" y="960" font-size="9.4" textLength="27.4" lengthAdjust="spacingAndGlyphs">G</text>
<text class="cr" x="1232.5" y="953.3" font-size="7" textLength="27.4" lengthAdjust="spacingAndGlyphs">R</text>
<text class="cg" x="1232.5" y="948.3" font-size="9.4" textLength="27.4" lengthAdjust="spacingAndGlyphs">T</text>
<text class="cg" x="1232.5" y="941.6" font-size="14" textLength="27.4" lengthAdjust="spacingAndGlyphs">Q</text>
<text class="cb" x="1232.5" y="931.6" font-size="34.9" textLength="27.4" lengthAdjust="spacingAndGlyphs">V</text>
<text class="cb" x="1232.5" y="906.6" font-size="37.3" textLength="27.4" lengthAdjust="spacingAndGlyphs">L</text>

<text class="co" x="1260.1" y="960" font-size="27.9" textLength="27.4" lengthAdjust="spacingAndGlyphs">G</text>
<text class="cy" x="1260.1" y="940" font-size="174.6" textLength="27.4" lengthAdjust="spacingAndGlyphs">P</text>

<text class="cb" x="1287.7" y="960" font-size="7" textLength="27.4" lengthAdjust="spacingAndGlyphs">L</text>
<text class="cb" x="1287.7" y="955" font-size="7" textLength="27.4" lengthAdjust="spacingAndGlyphs">M</text>
<text class="cg" x="1287.7" y="950" font-size="9.4" textLength="27.4" lengthAdjust="spacingAndGlyphs">S</text>
<text class="cb" x="1287.7" y="943.3" font-size="7" textLength="27.4" lengthAdjust="spacingAndGlyphs">V</text>
<text class="cb" x="1297" y="938.3" font-size="44.3" textLength="9" lengthAdjust="spacingAndGlyphs">I</text>
<text class="cg" x="1287.7" y="906.6" font-size="37.3" textLength="27.4" lengthAdjust="spacingAndGlyphs">Q</text>

<text class="cg" x="1315.3" y="960" font-size="9.4" textLength="27.4" lengthAdjust="spacingAndGlyphs">T</text>
<text class="cb" x="1315.3" y="953.3" font-size="23.3" textLength="27.4" lengthAdjust="spacingAndGlyphs">F</text>
<text class="cg" x="1315.3" y="936.6" font-size="41.9" textLength="27.4" lengthAdjust="spacingAndGlyphs">S</text>
<text class="cb" x="1315.3" y="906.6" font-size="62.9" textLength="27.4" lengthAdjust="spacingAndGlyphs">A</text>

<text class="cb" x="1342.9" y="960" font-size="11.6" textLength="27.4" lengthAdjust="spacingAndGlyphs">F</text>
<text class="cb" x="1342.9" y="951.7" font-size="11.6" textLength="27.4" lengthAdjust="spacingAndGlyphs">M</text>
<text class="cr" x="1342.9" y="943.4" font-size="170" textLength="27.4" lengthAdjust="spacingAndGlyphs">R</text>

<text class="cb" x="1370.5" y="960" font-size="7" textLength="27.4" lengthAdjust="spacingAndGlyphs">A</text>
<text class="cb" x="1370.5" y="955" font-size="9.4" textLength="27.4" lengthAdjust="spacingAndGlyphs">L</text>
<text class="cr" x="1370.5" y="948.3" font-size="44.3" textLength="27.4" lengthAdjust="spacingAndGlyphs">R</text>
<text class="cr" x="1370.5" y="916.6" font-size="111.8" textLength="27.4" lengthAdjust="spacingAndGlyphs">K</text>

<text class="cr" x="1398.1" y="960" font-size="7" textLength="27.4" lengthAdjust="spacingAndGlyphs">R</text>
<text class="cg" x="1398.1" y="955" font-size="18.6" textLength="27.4" lengthAdjust="spacingAndGlyphs">S</text>
<text class="cr" x="1398.1" y="941.7" font-size="25.6" textLength="27.4" lengthAdjust="spacingAndGlyphs">K</text>
<text class="cg" x="1398.1" y="923.4" font-size="23.3" textLength="27.4" lengthAdjust="spacingAndGlyphs">N</text>
<text class="cb" x="1398.1" y="906.7" font-size="44.3" textLength="27.4" lengthAdjust="spacingAndGlyphs">A</text>

<text class="cg" x="1425.7" y="960" font-size="235.1" textLength="27.4" lengthAdjust="spacingAndGlyphs">S</text>

<text class="cb" x="1453.3" y="960" font-size="16.3" textLength="27.4" lengthAdjust="spacingAndGlyphs">V</text>
<text class="cb" x="1453.3" y="948.3" font-size="198" textLength="27.4" lengthAdjust="spacingAndGlyphs">L</text>

<text class="cm" x="1490.2" y="960" font-size="5.6" textLength="9" lengthAdjust="spacingAndGlyphs">I</text>
<text class="cr" x="1480.9" y="956" font-size="9.4" textLength="27.4" lengthAdjust="spacingAndGlyphs">K</text>
<text class="cg" x="1480.9" y="949.3" font-size="10.8" textLength="27.4" lengthAdjust="spacingAndGlyphs">N</text>
<text class="ch" x="1480.9" y="941.6" font-size="18.6" textLength="27.4" lengthAdjust="spacingAndGlyphs">H</text>
<text class="cg" x="1480.9" y="928.3" font-size="14" textLength="27.4" lengthAdjust="spacingAndGlyphs">Q</text>
<text class="cb" x="1480.9" y="918.3" font-size="30.3" textLength="27.4" lengthAdjust="spacingAndGlyphs">A</text>

<text class="cr" x="1508.5" y="960" font-size="14" textLength="27.4" lengthAdjust="spacingAndGlyphs">K</text>
<text class="cr" x="1508.5" y="950" font-size="200.2" textLength="27.4" lengthAdjust="spacingAndGlyphs">R</text>

<text class="ct" x="1536.1" y="960" font-size="16.3" textLength="27.4" lengthAdjust="spacingAndGlyphs">Y</text>
<text class="cb" x="1536.1" y="948.3" font-size="198" textLength="27.4" lengthAdjust="spacingAndGlyphs">F</text>

<text class="cb" x="1563.7" y="960" font-size="13" textLength="27.4" lengthAdjust="spacingAndGlyphs">F</text>
<text class="cr" x="1563.7" y="950.7" font-size="38.1" textLength="27.4" lengthAdjust="spacingAndGlyphs">R</text>
<text class="cb" x="1563.7" y="923.4" font-size="123.4" textLength="27.4" lengthAdjust="spacingAndGlyphs">L</text>

<text class="cg" x="1591.3" y="960" font-size="14.9" textLength="27.4" lengthAdjust="spacingAndGlyphs">Q</text>
<text class="cm" x="1591.3" y="949.3" font-size="199.4" textLength="27.4" lengthAdjust="spacingAndGlyphs">E</text>

<text class="cg" x="1618.9" y="960" font-size="14.9" textLength="27.4" lengthAdjust="spacingAndGlyphs">N</text>
<text class="cr" x="1618.9" y="949.3" font-size="199.4" textLength="27.4" lengthAdjust="spacingAndGlyphs">K</text>

<text class="cr" x="1646.5" y="960" font-size="235.1" textLength="27.4" lengthAdjust="spacingAndGlyphs">R</text>

<text class="cr" x="1674.1" y="960" font-size="11.6" textLength="27.4" lengthAdjust="spacingAndGlyphs">R</text>
<text class="cr" x="1674.1" y="951.7" font-size="202.6" textLength="27.4" lengthAdjust="spacingAndGlyphs">K</text>

<text class="co" x="1701.7" y="960" font-size="10.2" textLength="27.4" lengthAdjust="spacingAndGlyphs">G</text>
<text class="cg" x="1701.7" y="952.7" font-size="10.8" textLength="27.4" lengthAdjust="spacingAndGlyphs">S</text>
<text class="cm" x="1701.7" y="945" font-size="62.9" textLength="27.4" lengthAdjust="spacingAndGlyphs">D</text>
<text class="cm" x="1701.7" y="900" font-size="65.2" textLength="27.4" lengthAdjust="spacingAndGlyphs">E</text>

<text class="cr" x="1729.3" y="960" font-size="14" textLength="27.4" lengthAdjust="spacingAndGlyphs">K</text>
<text class="cr" x="1729.3" y="950" font-size="200.2" textLength="27.4" lengthAdjust="spacingAndGlyphs">R</text>

<text class="cb" x="1756.9" y="960" font-size="7" textLength="27.4" lengthAdjust="spacingAndGlyphs">F</text>
<text class="cg" x="1756.9" y="955" font-size="9.4" textLength="27.4" lengthAdjust="spacingAndGlyphs">N</text>
<text class="cg" x="1756.9" y="948.3" font-size="11.6" textLength="27.4" lengthAdjust="spacingAndGlyphs">S</text>
<text class="cb" x="1756.9" y="940" font-size="21" textLength="27.4" lengthAdjust="spacingAndGlyphs">A</text>
<text class="cb" x="1756.9" y="925" font-size="21" textLength="27.4" lengthAdjust="spacingAndGlyphs">C</text>
<text class="cb" x="1756.9" y="910" font-size="32.6" textLength="27.4" lengthAdjust="spacingAndGlyphs">V</text>

<text class="cr" x="1784.5" y="960" font-size="4.6" textLength="27.4" lengthAdjust="spacingAndGlyphs">K</text>
<text class="cg" x="1784.5" y="956.7" font-size="5.6" textLength="27.4" lengthAdjust="spacingAndGlyphs">Q</text>
<text class="cb" x="1784.5" y="952.7" font-size="8.4" textLength="27.4" lengthAdjust="spacingAndGlyphs">V</text>
<text class="cb" x="1784.5" y="946.7" font-size="11.6" textLength="27.4" lengthAdjust="spacingAndGlyphs">A</text>
<text class="cb" x="1784.5" y="938.4" font-size="16.3" textLength="27.4" lengthAdjust="spacingAndGlyphs">M</text>
<text class="cb" x="1784.5" y="926.7" font-size="23.3" textLength="27.4" lengthAdjust="spacingAndGlyphs">F</text>
<text class="cb" x="1793.8" y="910" font-size="25.6" textLength="9" lengthAdjust="spacingAndGlyphs">I</text>

<text class="cg" x="1812.1" y="960" font-size="5.6" textLength="27.4" lengthAdjust="spacingAndGlyphs">Q</text>
<text class="cm" x="1812.1" y="956" font-size="13" textLength="27.4" lengthAdjust="spacingAndGlyphs">D</text>
<text class="cm" x="1812.1" y="946.7" font-size="14" textLength="27.4" lengthAdjust="spacingAndGlyphs">E</text>
<text class="cb" x="1812.1" y="936.7" font-size="14" textLength="27.4" lengthAdjust="spacingAndGlyphs">V</text>
<text class="cg" x="1812.1" y="926.7" font-size="23.3" textLength="27.4" lengthAdjust="spacingAndGlyphs">T</text>
<text class="cg" x="1812.1" y="910" font-size="30.3" textLength="27.4" lengthAdjust="spacingAndGlyphs">S</text>

<text class="co" x="1839.7" y="960" font-size="4.6" textLength="27.4" lengthAdjust="spacingAndGlyphs">G</text>
<text class="cb" x="1839.7" y="956.7" font-size="9.4" textLength="27.4" lengthAdjust="spacingAndGlyphs">M</text>
<text class="ct" x="1839.7" y="950" font-size="7" textLength="27.4" lengthAdjust="spacingAndGlyphs">Y</text>
<text class="cr" x="1839.7" y="945" font-size="16.3" textLength="27.4" lengthAdjust="spacingAndGlyphs">R</text>
<text class="cr" x="1839.7" y="933.3" font-size="32.6" textLength="27.4" lengthAdjust="spacingAndGlyphs">K</text>
<text class="cb" x="1839.7" y="910" font-size="41.9" textLength="27.4" lengthAdjust="spacingAndGlyphs">A</text>

<text class="cg" x="1867.3" y="960" font-size="5.6" textLength="27.4" lengthAdjust="spacingAndGlyphs">N</text>
<text class="cg" x="1867.3" y="956" font-size="8.4" textLength="27.4" lengthAdjust="spacingAndGlyphs">T</text>
<text class="cb" x="1867.3" y="950" font-size="23.3" textLength="27.4" lengthAdjust="spacingAndGlyphs">A</text>
<text class="cr" x="1867.3" y="933.3" font-size="23.3" textLength="27.4" lengthAdjust="spacingAndGlyphs">K</text>
<text class="cg" x="1867.3" y="916.6" font-size="18.6" textLength="27.4" lengthAdjust="spacingAndGlyphs">S</text>
<text class="co" x="1867.3" y="903.3" font-size="23.3" textLength="27.4" lengthAdjust="spacingAndGlyphs">G</text>

<text class="cb" x="1894.9" y="960" font-size="18.6" textLength="27.4" lengthAdjust="spacingAndGlyphs">V</text>
<text class="cb" x="1894.9" y="946.7" font-size="58.3" textLength="27.4" lengthAdjust="spacingAndGlyphs">A</text>
<text class="cb" x="1904.2" y="905" font-size="81.4" textLength="9" lengthAdjust="spacingAndGlyphs">I</text>

<text class="cr" x="1922.5" y="960" font-size="11.6" textLength="27.4" lengthAdjust="spacingAndGlyphs">K</text>
<text class="cr" x="1922.5" y="951.7" font-size="34.9" textLength="27.4" lengthAdjust="spacingAndGlyphs">R</text>
<text class="cy" x="1922.5" y="926.7" font-size="128.1" textLength="27.4" lengthAdjust="spacingAndGlyphs">P</text>

<text class="cb" x="1950.1" y="960" font-size="14" textLength="27.4" lengthAdjust="spacingAndGlyphs">A</text>
<text class="cb" x="1959.4" y="950" font-size="14" textLength="9" lengthAdjust="spacingAndGlyphs">I</text>
<text class="ct" x="1950.1" y="940" font-size="165.3" textLength="27.4" lengthAdjust="spacingAndGlyphs">Y</text>
</g>
<g class="num" text-anchor="end">
<text transform="translate(1167.5,964) rotate(-90)">1</text><text transform="translate(1195.1,964) rotate(-90)">2</text><text transform="translate(1222.7,964) rotate(-90)">3</text><text transform="translate(1250.3,964) rotate(-90)">4</text><text transform="translate(1277.9,964) rotate(-90)">5</text><text transform="translate(1305.5,964) rotate(-90)">6</text><text transform="translate(1333.1,964) rotate(-90)">7</text><text transform="translate(1360.7,964) rotate(-90)">8</text><text transform="translate(1388.3,964) rotate(-90)">9</text><text transform="translate(1415.9,964) rotate(-90)">10</text><text transform="translate(1443.5,964) rotate(-90)">11</text><text transform="translate(1471.1,964) rotate(-90)">12</text><text transform="translate(1498.7,964) rotate(-90)">13</text><text transform="translate(1526.3,964) rotate(-90)">14</text><text transform="translate(1553.9,964) rotate(-90)">15</text><text transform="translate(1581.5,964) rotate(-90)">16</text><text transform="translate(1609.1,964) rotate(-90)">17</text><text transform="translate(1636.7,964) rotate(-90)">18</text><text transform="translate(1664.3,964) rotate(-90)">19</text><text transform="translate(1691.9,964) rotate(-90)">20</text><text transform="translate(1719.5,964) rotate(-90)">21</text><text transform="translate(1747.1,964) rotate(-90)">22</text><text transform="translate(1774.7,964) rotate(-90)">23</text><text transform="translate(1802.3,964) rotate(-90)">24</text><text transform="translate(1829.9,964) rotate(-90)">25</text><text transform="translate(1857.5,964) rotate(-90)">26</text><text transform="translate(1885.1,964) rotate(-90)">27</text><text transform="translate(1912.7,964) rotate(-90)">28</text><text transform="translate(1940.3,964) rotate(-90)">29</text><text transform="translate(1967.9,964) rotate(-90)">30</text>
</g>
</g>
</svg>
